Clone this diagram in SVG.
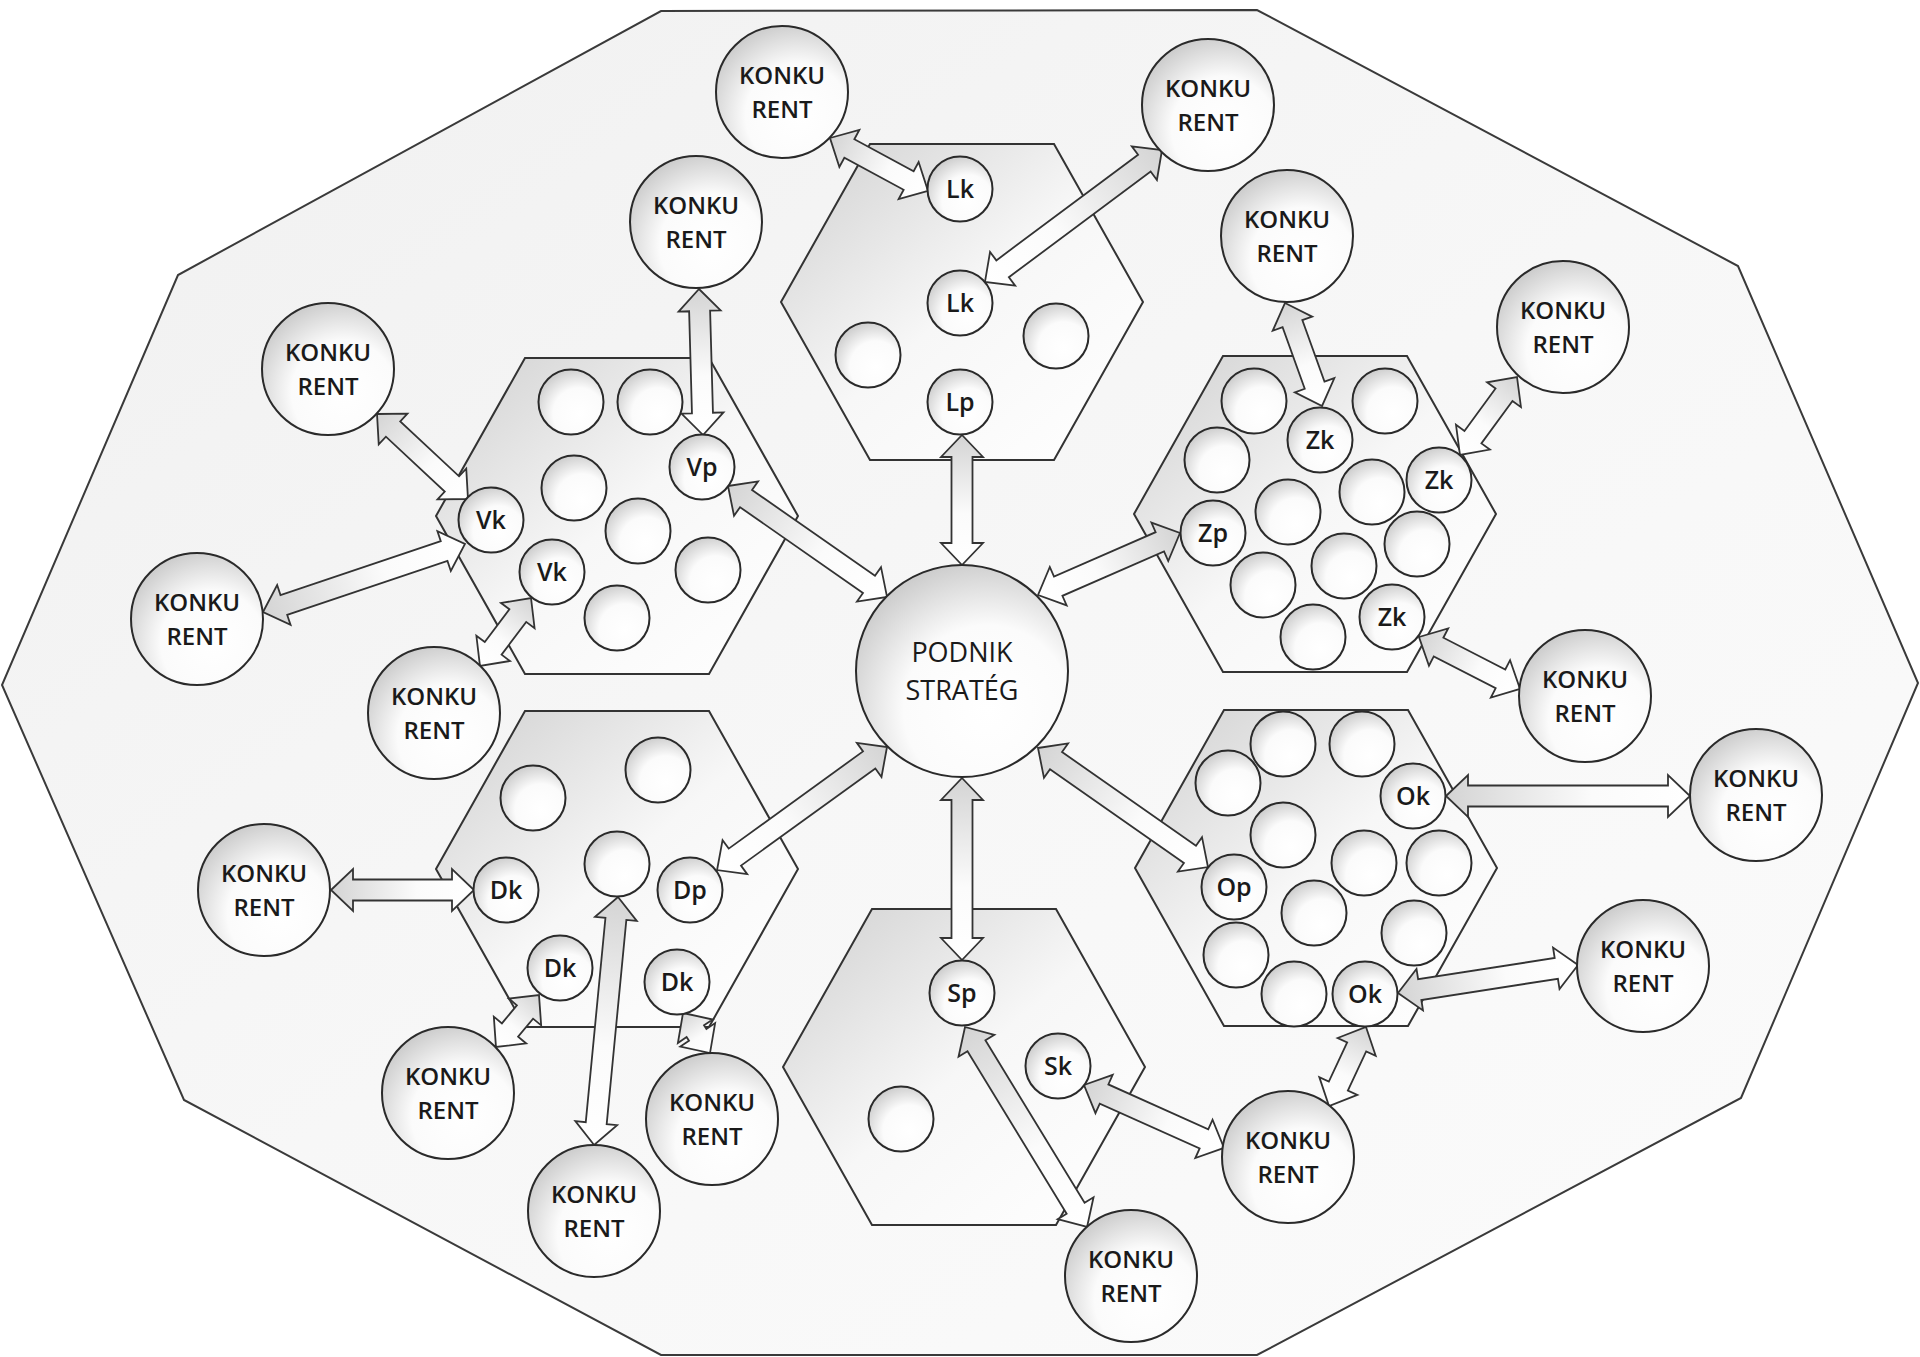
<svg xmlns="http://www.w3.org/2000/svg" xmlns:xlink="http://www.w3.org/1999/xlink" width="1920" height="1357" viewBox="0 0 1920 1357">
<style>
.ol{stroke:#3a3a3a;stroke-width:2;}
.hx{fill:url(#gHex);stroke:#333;stroke-width:2;}
.c{fill:url(#gCir);stroke:#2a2a2a;stroke-width:2;}
.ar{fill:url(#gArr);stroke:#333;stroke-width:1.8;stroke-linejoin:miter;}
.kt{font-family:"Open Sans","DejaVu Sans",sans-serif;font-size:24px;font-weight:600;fill:#1a1a1a;text-anchor:middle;}
.st{font-family:"Open Sans","DejaVu Sans",sans-serif;font-size:25px;font-weight:600;fill:#1a1a1a;text-anchor:middle;}
.pt{font-family:"Open Sans","DejaVu Sans",sans-serif;font-size:27px;fill:#1a1a1a;text-anchor:middle;}
</style>
<defs>
<linearGradient id="gOut" x1="0" y1="0" x2="1" y2="1">
<stop offset="0" stop-color="#f0f0f0"/><stop offset="0.5" stop-color="#f7f7f7"/><stop offset="1" stop-color="#fbfbfb"/>
</linearGradient>
<linearGradient id="gHex" x1="0" y1="0" x2="1" y2="1">
<stop offset="0" stop-color="#d0d0d0"/><stop offset="0.5" stop-color="#f7f7f7"/><stop offset="1" stop-color="#ffffff"/>
</linearGradient>
<radialGradient id="gCir" cx="0.62" cy="0.68" r="0.72">
<stop offset="0" stop-color="#ffffff"/><stop offset="0.55" stop-color="#fbfbfb"/><stop offset="1" stop-color="#cbcbcb"/>
</radialGradient>
<linearGradient id="gArr" x1="0" y1="0" x2="1" y2="0">
<stop offset="0" stop-color="#d4d4d4"/><stop offset="0.6" stop-color="#fbfbfb"/><stop offset="1" stop-color="#ffffff"/>
</linearGradient>
<polygon id="hex" points="-92,-158 92,-158 181,0 92,158 -92,158 -181,0"/>
</defs>
<rect x="0" y="0" width="1920" height="1357" fill="#ffffff"/>
<polygon id="outer" class="ol" fill="url(#gOut)" points="661,11 1257,10 1738,266 1918,683 1741,1098 1257,1355 661,1355 184,1100 2,685 178,275"/>

<g id="hexagons">
<use id="hex-L" xlink:href="#hex" class="hx" transform="translate(962,302)"/>
<use id="hex-V" xlink:href="#hex" class="hx" transform="translate(617,516)"/>
<use id="hex-Z" xlink:href="#hex" class="hx" transform="translate(1315,514)"/>
<use id="hex-D" xlink:href="#hex" class="hx" transform="translate(617,869)"/>
<use id="hex-O" xlink:href="#hex" class="hx" transform="translate(1316,868)"/>
<use id="hex-S" xlink:href="#hex" class="hx" transform="translate(964,1067)"/>
</g>

<g id="connectors">
<path class="ar" transform="translate(830,138) rotate(28.4)" d="M0,0 L22,-21 L22,-10.5 L89.4,-10.5 L89.4,-21 L111.4,0 L89.4,21 L89.4,10.5 L22,10.5 L22,21 Z"/>
<path class="ar" transform="translate(1162,150) rotate(143.3)" d="M0,0 L22,-21 L22,-10.5 L198.8,-10.5 L198.8,-21 L220.8,0 L198.8,21 L198.8,10.5 L22,10.5 L22,21 Z"/>
<path class="ar" transform="translate(699,289) rotate(88.4)" d="M0,0 L22,-21 L22,-10.5 L124.1,-10.5 L124.1,-21 L146.1,0 L124.1,21 L124.1,10.5 L22,10.5 L22,21 Z"/>
<path class="ar" transform="translate(962,435) rotate(90)" d="M0,0 L22,-21 L22,-10.5 L108,-10.5 L108,-21 L130,0 L108,21 L108,10.5 L22,10.5 L22,21 Z"/>
<path class="ar" transform="translate(377,414) rotate(43.05)" d="M0,0 L22,-21 L22,-10.5 L102.5,-10.5 L102.5,-21 L124.5,0 L102.5,21 L102.5,10.5 L22,10.5 L22,21 Z"/>
<path class="ar" transform="translate(263,612) rotate(-18.6)" d="M0,0 L22,-21 L22,-10.5 L191.1,-10.5 L191.1,-21 L213.1,0 L191.1,21 L191.1,10.5 L22,10.5 L22,21 Z"/>
<path class="ar" transform="translate(531,598) rotate(126.9)" d="M0,0 L22,-21 L22,-10.5 L63,-10.5 L63,-21 L85,0 L63,21 L63,10.5 L22,10.5 L22,21 Z"/>
<path class="ar" transform="translate(728,486) rotate(34.9)" d="M0,0 L22,-21 L22,-10.5 L171.9,-10.5 L171.9,-21 L193.9,0 L171.9,21 L171.9,10.5 L22,10.5 L22,21 Z"/>
<path class="ar" transform="translate(1180,533) rotate(156.4)" d="M0,0 L22,-21 L22,-10.5 L132.9,-10.5 L132.9,-21 L154.9,0 L132.9,21 L132.9,10.5 L22,10.5 L22,21 Z"/>
<path class="ar" transform="translate(1285,303) rotate(70.2)" d="M0,0 L22,-21 L22,-10.5 L87.4,-10.5 L87.4,-21 L109.4,0 L87.4,21 L87.4,10.5 L22,10.5 L22,21 Z"/>
<path class="ar" transform="translate(1517,377) rotate(126.2)" d="M0,0 L22,-21 L22,-10.5 L74.6,-10.5 L74.6,-21 L96.6,0 L74.6,21 L74.6,10.5 L22,10.5 L22,21 Z"/>
<path class="ar" transform="translate(1419,637) rotate(27.2)" d="M0,0 L22,-21 L22,-10.5 L91.6,-10.5 L91.6,-21 L113.6,0 L91.6,21 L91.6,10.5 L22,10.5 L22,21 Z"/>
<path class="ar" transform="translate(1446,796) rotate(0)" d="M0,0 L22,-21 L22,-10.5 L222,-10.5 L222,-21 L244,0 L222,21 L222,10.5 L22,10.5 L22,21 Z"/>
<path class="ar" transform="translate(1398,993) rotate(-8.84)" d="M0,0 L22,-21 L22,-10.5 L160.2,-10.5 L160.2,-21 L182.2,0 L160.2,21 L160.2,10.5 L22,10.5 L22,21 Z"/>
<path class="ar" transform="translate(1366,1027) rotate(115.1)" d="M0,0 L22,-21 L22,-10.5 L65.2,-10.5 L65.2,-21 L87.2,0 L65.2,21 L65.2,10.5 L22,10.5 L22,21 Z"/>
<path class="ar" transform="translate(1084,1085) rotate(24.2)" d="M0,0 L22,-21 L22,-10.5 L131.5,-10.5 L131.5,-21 L153.5,0 L131.5,21 L131.5,10.5 L22,10.5 L22,21 Z"/>
<path class="ar" transform="translate(965,1027) rotate(58.6)" d="M0,0 L22,-21 L22,-10.5 L212.3,-10.5 L212.3,-21 L234.3,0 L212.3,21 L212.3,10.5 L22,10.5 L22,21 Z"/>
<path class="ar" transform="translate(962,778) rotate(90)" d="M0,0 L22,-21 L22,-10.5 L160,-10.5 L160,-21 L182,0 L160,21 L160,10.5 L22,10.5 L22,21 Z"/>
<path class="ar" transform="translate(1038,748) rotate(35)" d="M0,0 L22,-21 L22,-10.5 L185.5,-10.5 L185.5,-21 L207.5,0 L185.5,21 L185.5,10.5 L22,10.5 L22,21 Z"/>
<path class="ar" transform="translate(887,747) rotate(144.1)" d="M0,0 L22,-21 L22,-10.5 L187.8,-10.5 L187.8,-21 L209.8,0 L187.8,21 L187.8,10.5 L22,10.5 L22,21 Z"/>
<path class="ar" transform="translate(331,890) rotate(0)" d="M0,0 L22,-21 L22,-10.5 L121,-10.5 L121,-21 L143,0 L121,21 L121,10.5 L22,10.5 L22,21 Z"/>
<path class="ar" transform="translate(539,995) rotate(129.6)" d="M0,0 L22,-21 L22,-10.5 L45.5,-10.5 L45.5,-21 L67.5,0 L45.5,21 L45.5,10.5 L22,10.5 L22,21 Z"/>
<path class="ar" transform="translate(683,1013) rotate(56)" d="M0,0 L22,-21 L22,-10.5 L26.3,-10.5 L26.3,-21 L48.3,0 L26.3,21 L26.3,10.5 L22,10.5 L22,21 Z"/>
<path class="ar" transform="translate(618,897) rotate(95.5)" d="M0,0 L22,-21 L22,-10.5 L227.2,-10.5 L227.2,-21 L249.2,0 L227.2,21 L227.2,10.5 L22,10.5 L22,21 Z"/>
</g>

<g id="node-podnik"><circle class="c" cx="962" cy="671" r="106"/><text class="pt" x="962" y="662">PODNIK</text><text class="pt" x="962" y="700">STRATÉG</text></g>

<g id="group-L">
<g id="L-k1"><circle class="c" cx="960" cy="189" r="32.5"/><text class="st" x="960" y="198">Lk</text></g>
<g id="L-k2"><circle class="c" cx="960" cy="303" r="32.5"/><text class="st" x="960" y="312">Lk</text></g>
<g id="L-e1"><circle class="c" cx="868" cy="355" r="32.5"/></g>
<g id="L-e2"><circle class="c" cx="1056" cy="336" r="32.5"/></g>
<g id="L-p"><circle class="c" cx="960" cy="402" r="32.5"/><text class="st" x="960" y="411">Lp</text></g>
</g>

<g id="group-V">
<g id="V-e1"><circle class="c" cx="571" cy="402" r="32.5"/></g>
<g id="V-e2"><circle class="c" cx="650" cy="402" r="32.5"/></g>
<g id="V-p"><circle class="c" cx="702" cy="467" r="32.5"/><text class="st" x="702" y="476">Vp</text></g>
<g id="V-e3"><circle class="c" cx="574" cy="488" r="32.5"/></g>
<g id="V-k1"><circle class="c" cx="491" cy="520" r="32.5"/><text class="st" x="491" y="529">Vk</text></g>
<g id="V-e4"><circle class="c" cx="638" cy="531" r="32.5"/></g>
<g id="V-k2"><circle class="c" cx="552" cy="572" r="32.5"/><text class="st" x="552" y="581">Vk</text></g>
<g id="V-e5"><circle class="c" cx="708" cy="570" r="32.5"/></g>
<g id="V-e6"><circle class="c" cx="617" cy="618" r="32.5"/></g>
</g>

<g id="group-Z">
<g id="Z-e1"><circle class="c" cx="1254" cy="401" r="32.5"/></g>
<g id="Z-e2"><circle class="c" cx="1385" cy="401" r="32.5"/></g>
<g id="Z-k1"><circle class="c" cx="1320" cy="440" r="32.5"/><text class="st" x="1320" y="449">Zk</text></g>
<g id="Z-e3"><circle class="c" cx="1217" cy="460" r="32.5"/></g>
<g id="Z-e4"><circle class="c" cx="1372" cy="492" r="32.5"/></g>
<g id="Z-k2"><circle class="c" cx="1439" cy="480" r="32.5"/><text class="st" x="1439" y="489">Zk</text></g>
<g id="Z-e5"><circle class="c" cx="1288" cy="512" r="32.5"/></g>
<g id="Z-p"><circle class="c" cx="1213" cy="533" r="32.5"/><text class="st" x="1213" y="542">Zp</text></g>
<g id="Z-e6"><circle class="c" cx="1417" cy="544" r="32.5"/></g>
<g id="Z-e7"><circle class="c" cx="1344" cy="566" r="32.5"/></g>
<g id="Z-e8"><circle class="c" cx="1263" cy="585" r="32.5"/></g>
<g id="Z-k3"><circle class="c" cx="1392" cy="617" r="32.5"/><text class="st" x="1392" y="626">Zk</text></g>
<g id="Z-e9"><circle class="c" cx="1313" cy="637" r="32.5"/></g>
</g>

<g id="group-O">
<g id="O-e1"><circle class="c" cx="1283" cy="744" r="32.5"/></g>
<g id="O-e2"><circle class="c" cx="1362" cy="744" r="32.5"/></g>
<g id="O-e3"><circle class="c" cx="1228" cy="783" r="32.5"/></g>
<g id="O-k1"><circle class="c" cx="1413" cy="796" r="32.5"/><text class="st" x="1413" y="805">Ok</text></g>
<g id="O-e4"><circle class="c" cx="1283" cy="835" r="32.5"/></g>
<g id="O-e5"><circle class="c" cx="1364" cy="863" r="32.5"/></g>
<g id="O-e6"><circle class="c" cx="1439" cy="863" r="32.5"/></g>
<g id="O-p"><circle class="c" cx="1234" cy="887" r="32.5"/><text class="st" x="1234" y="896">Op</text></g>
<g id="O-e7"><circle class="c" cx="1314" cy="913" r="32.5"/></g>
<g id="O-e8"><circle class="c" cx="1414" cy="933" r="32.5"/></g>
<g id="O-e9"><circle class="c" cx="1236" cy="955" r="32.5"/></g>
<g id="O-e10"><circle class="c" cx="1294" cy="994" r="32.5"/></g>
<g id="O-k2"><circle class="c" cx="1365" cy="994" r="32.5"/><text class="st" x="1365" y="1003">Ok</text></g>
</g>

<g id="group-D">
<g id="D-e1"><circle class="c" cx="533" cy="798" r="32.5"/></g>
<g id="D-e2"><circle class="c" cx="658" cy="770" r="32.5"/></g>
<g id="D-e3"><circle class="c" cx="617" cy="864" r="32.5"/></g>
<g id="D-k1"><circle class="c" cx="506" cy="890" r="32.5"/><text class="st" x="506" y="899">Dk</text></g>
<g id="D-p"><circle class="c" cx="690" cy="890" r="32.5"/><text class="st" x="690" y="899">Dp</text></g>
<g id="D-k2"><circle class="c" cx="560" cy="968" r="32.5"/><text class="st" x="560" y="977">Dk</text></g>
<g id="D-k3"><circle class="c" cx="677" cy="982" r="32.5"/><text class="st" x="677" y="991">Dk</text></g>
</g>

<g id="group-S">
<g id="S-p"><circle class="c" cx="962" cy="993" r="32.5"/><text class="st" x="962" y="1002">Sp</text></g>
<g id="S-k"><circle class="c" cx="1058" cy="1066" r="32.5"/><text class="st" x="1058" y="1075">Sk</text></g>
<g id="S-e1"><circle class="c" cx="901" cy="1119" r="32.5"/></g>
</g>

<g id="competitors">
<g id="k1"><circle class="c" cx="782" cy="92" r="66"/><text class="kt" x="782" y="84">KONKU</text><text class="kt" x="782" y="118">RENT</text></g>
<g id="k2"><circle class="c" cx="1208" cy="105" r="66"/><text class="kt" x="1208" y="97">KONKU</text><text class="kt" x="1208" y="131">RENT</text></g>
<g id="k3"><circle class="c" cx="696" cy="222" r="66"/><text class="kt" x="696" y="214">KONKU</text><text class="kt" x="696" y="248">RENT</text></g>
<g id="k4"><circle class="c" cx="328" cy="369" r="66"/><text class="kt" x="328" y="361">KONKU</text><text class="kt" x="328" y="395">RENT</text></g>
<g id="k5"><circle class="c" cx="197" cy="619" r="66"/><text class="kt" x="197" y="611">KONKU</text><text class="kt" x="197" y="645">RENT</text></g>
<g id="k6"><circle class="c" cx="434" cy="713" r="66"/><text class="kt" x="434" y="705">KONKU</text><text class="kt" x="434" y="739">RENT</text></g>
<g id="k7"><circle class="c" cx="1287" cy="236" r="66"/><text class="kt" x="1287" y="228">KONKU</text><text class="kt" x="1287" y="262">RENT</text></g>
<g id="k8"><circle class="c" cx="1563" cy="327" r="66"/><text class="kt" x="1563" y="319">KONKU</text><text class="kt" x="1563" y="353">RENT</text></g>
<g id="k9"><circle class="c" cx="1585" cy="696" r="66"/><text class="kt" x="1585" y="688">KONKU</text><text class="kt" x="1585" y="722">RENT</text></g>
<g id="k10"><circle class="c" cx="1756" cy="795" r="66"/><text class="kt" x="1756" y="787">KONKU</text><text class="kt" x="1756" y="821">RENT</text></g>
<g id="k11"><circle class="c" cx="1643" cy="966" r="66"/><text class="kt" x="1643" y="958">KONKU</text><text class="kt" x="1643" y="992">RENT</text></g>
<g id="k12"><circle class="c" cx="1288" cy="1157" r="66"/><text class="kt" x="1288" y="1149">KONKU</text><text class="kt" x="1288" y="1183">RENT</text></g>
<g id="k13"><circle class="c" cx="1131" cy="1276" r="66"/><text class="kt" x="1131" y="1268">KONKU</text><text class="kt" x="1131" y="1302">RENT</text></g>
<g id="k14"><circle class="c" cx="594" cy="1211" r="66"/><text class="kt" x="594" y="1203">KONKU</text><text class="kt" x="594" y="1237">RENT</text></g>
<g id="k15"><circle class="c" cx="712" cy="1119" r="66"/><text class="kt" x="712" y="1111">KONKU</text><text class="kt" x="712" y="1145">RENT</text></g>
<g id="k16"><circle class="c" cx="448" cy="1093" r="66"/><text class="kt" x="448" y="1085">KONKU</text><text class="kt" x="448" y="1119">RENT</text></g>
<g id="k17"><circle class="c" cx="264" cy="890" r="66"/><text class="kt" x="264" y="882">KONKU</text><text class="kt" x="264" y="916">RENT</text></g>
</g>
</svg>
